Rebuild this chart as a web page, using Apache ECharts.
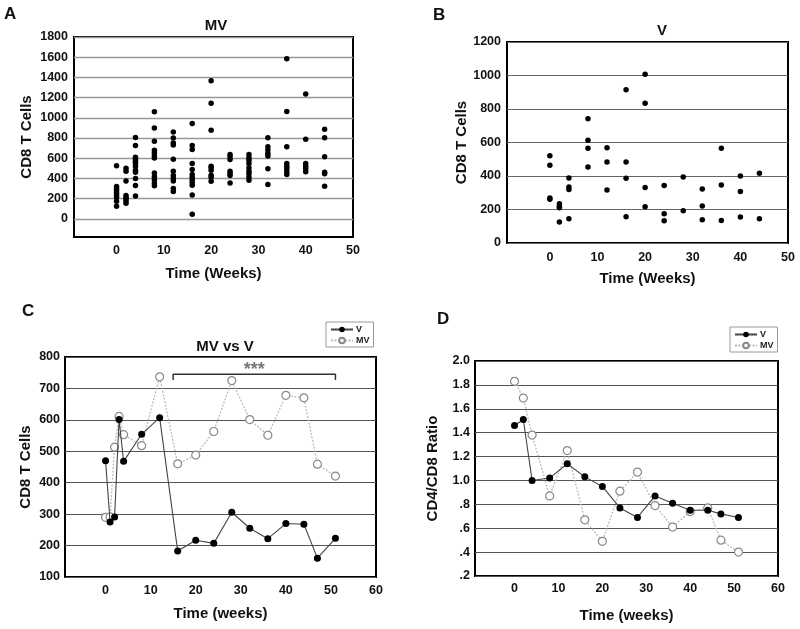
<!DOCTYPE html>
<html><head><meta charset="utf-8">
<script src="https://cdn.jsdelivr.net/npm/echarts@6/dist/echarts.min.js"></script>
<style>html,body{margin:0;padding:0;background:#fff}#c{width:800px;height:629px}</style>
</head><body><div id="c"></div>
<script>
// ---------- DATA ----------
const weeksAB = [0, 2, 4, 8, 12, 16, 20, 24, 28, 32, 36, 40, 44];
const mvCells = [
  [525, 320, 300, 280, 255, 235, 210, 175, 125],
  [500, 470, 375, 230, 210, 195, 180, 155],
  [805, 725, 610, 590, 570, 550, 520, 480, 460, 400, 330, 225],
  [1060, 900, 767, 678, 651, 625, 602, 453, 420, 387, 354, 327],
  [860, 800, 750, 730, 590, 470, 430, 400, 375, 300, 270],
  [943, 727, 687, 548, 488, 438, 412, 388, 362, 332, 236, 46],
  [1368, 1145, 876, 521, 505, 481, 432, 412, 372],
  [637, 614, 588, 471, 448, 428, 355],
  [637, 604, 581, 548, 505, 471, 445, 415, 382],
  [803, 714, 681, 647, 621, 495, 339],
  [1584, 1062, 714, 548, 521, 495, 465, 438],
  [1235, 787, 548, 521, 495, 465],
  [886, 803, 614, 461, 445, 322]
];
const vCells = [
  [521, 464, 269, 261],
  [235, 220, 210, 125],
  [388, 335, 320, 145],
  [742, 613, 565, 454],
  [569, 484, 316],
  [915, 484, 386, 157],
  [1007, 834, 332, 217],
  [344, 175, 133],
  [394, 193],
  [322, 221, 139],
  [565, 346, 135],
  [400, 308, 155],
  [416, 145]
];
const weeksC = [0, 1, 2, 3, 4, 8, 12, 16, 20, 24, 28, 32, 36, 40, 44, 47, 51];
const vMeanC = [470, 275, 291, 601, 468, 554, 607, 183, 217, 207, 306, 255, 222, 270, 268, 160, 223];
const mvMeanC = [290, 291, 513, 611, 553, 518, 737, 460, 488, 563, 725, 601, 551, 678, 670, 459, 421];
const weeksD = [0, 2, 4, 8, 12, 16, 20, 24, 28, 32, 36, 40, 44, 47, 51];
const vRatioD = [1.46, 1.51, 1.00, 1.02, 1.14, 1.03, 0.95, 0.77, 0.69, 0.87, 0.81, 0.75, 0.75, 0.72, 0.69];
const mvRatioD = [1.83, 1.69, 1.38, 0.87, 1.25, 0.67, 0.49, 0.91, 1.07, 0.79, 0.61, 0.74, 0.77, 0.50, 0.40];
const bracketWeeks = [15, 51];
const bracketLevel = 745;
const bracketEnd = 727;
const starsAt = [33, 758];
const xTicksAB = [0, 10, 20, 30, 40, 50];
const xTicksCD = [0, 10, 20, 30, 40, 50, 60];
const yTicksA = [0, 200, 400, 600, 800, 1000, 1200, 1400, 1600, 1800];

// ---------- CHART ----------
const FONT = '"Liberation Sans", Arial, sans-serif';
const chart = echarts.init(document.getElementById('c'), null, {renderer: 'canvas'});

const scatterData = (weeks, cells) => {
  const out = [];
  weeks.forEach((w, i) => cells[i].forEach(v => out.push([w, v])));
  return out;
};
const plain = v => String(Math.round(v));
const lab = {fontFamily: FONT, fontWeight: 'bold', fontSize: 12.5, color: '#111'};
const nameStyle = {fontFamily: FONT, fontWeight: 'bold', fontSize: 15, color: '#111'};

function xAxis(idx, max, ticks, nameGap, margin) {
  return {
    type: 'value', gridIndex: idx, min: -9, max: max,
    name: idx < 2 ? 'Time (Weeks)' : 'Time (weeks)',
    nameLocation: 'middle', nameGap: nameGap, nameTextStyle: nameStyle,
    axisLine: {show: false}, axisTick: {show: false, customValues: ticks},
    splitLine: {show: false},
    axisLabel: Object.assign({customValues: ticks, margin: margin, formatter: plain}, lab)
  };
}
const legendCommon = {orient: 'vertical', data: ['V', 'MV'], padding: [3, 4, 2, 4], itemGap: 2,
  itemWidth: 22, itemHeight: 7, borderColor: '#999', borderWidth: 1, selectedMode: false,
  textStyle: {fontFamily: FONT, fontWeight: 'bold', fontSize: 9, color: '#222', padding: [0, 0, 0, -2]}};

const option = {
  animation: false,
  backgroundColor: '#fff',
  textStyle: {fontFamily: FONT},
  title: [
    {text: 'MV', left: 211, top: 13, textAlign: 'center', textStyle: {fontFamily: FONT, fontSize: 15, fontWeight: 'bold', color: '#111'}},
    {text: 'V', left: 657, top: 18, textAlign: 'center', textStyle: {fontFamily: FONT, fontSize: 15, fontWeight: 'bold', color: '#111'}},
    {text: 'MV vs V', left: 220, top: 334, textAlign: 'center', textStyle: {fontFamily: FONT, fontSize: 15, fontWeight: 'bold', color: '#111'}}
  ],
  graphic: [
    {type: 'text', left: 4, top: 6, style: {text: 'A', font: 'bold 17px ' + FONT, fill: '#111'}},
    {type: 'text', left: 433, top: 7, style: {text: 'B', font: 'bold 17px ' + FONT, fill: '#111'}},
    {type: 'text', left: 22, top: 303, style: {text: 'C', font: 'bold 17px ' + FONT, fill: '#111'}},
    {type: 'text', left: 437, top: 311, style: {text: 'D', font: 'bold 17px ' + FONT, fill: '#111'}}
  ],
  legend: [
    Object.assign({left: 326, top: 322}, legendCommon),
    Object.assign({left: 730, top: 327}, legendCommon)
  ],
  grid: [
    {left: 74, top: 37, width: 279, height: 200, show: true, borderColor: '#000', borderWidth: 2, backgroundColor: 'transparent'},
    {left: 507, top: 42, width: 281, height: 201, show: true, borderColor: '#000', borderWidth: 2, backgroundColor: 'transparent'},
    {left: 65, top: 357, width: 311, height: 220, show: true, borderColor: '#000', borderWidth: 2, backgroundColor: 'transparent'},
    {left: 475, top: 361, width: 303, height: 215, show: true, borderColor: '#000', borderWidth: 2, backgroundColor: 'transparent'}
  ],
  xAxis: [
    xAxis(0, 50, xTicksAB, 29, 7),
    xAxis(1, 50, xTicksAB, 28, 8),
    xAxis(2, 60, xTicksCD, 29, 7),
    xAxis(3, 60, xTicksCD, 32, 6)
  ],
  yAxis: [
    {type: 'value', gridIndex: 0, min: -180, max: 1800,
      name: 'CD8 T Cells', nameLocation: 'middle', nameGap: 40, nameTextStyle: nameStyle,
      axisLine: {show: false}, axisTick: {show: false, customValues: yTicksA},
      axisLabel: Object.assign({customValues: yTicksA, margin: 6, formatter: plain}, lab),
      splitLine: {show: true, lineStyle: {color: '#999', width: 1.3}}},
    {type: 'value', gridIndex: 1, min: 0, max: 1200, interval: 200,
      name: 'CD8 T Cells', nameLocation: 'middle', nameGap: 34, nameTextStyle: nameStyle,
      axisLine: {show: false}, axisTick: {show: false},
      axisLabel: Object.assign({margin: 6, formatter: plain}, lab),
      splitLine: {show: true, lineStyle: {color: '#666', width: 1}}},
    {type: 'value', gridIndex: 2, min: 100, max: 800, interval: 100,
      name: 'CD8 T Cells', nameLocation: 'middle', nameGap: 32, nameTextStyle: nameStyle,
      axisLine: {show: false}, axisTick: {show: false},
      axisLabel: Object.assign({margin: 5, formatter: plain}, lab),
      splitLine: {show: true, lineStyle: {color: '#555', width: 1}}},
    {type: 'value', gridIndex: 3, min: 0.2, max: 2.0, interval: 0.2,
      name: 'CD4/CD8 Ratio', nameLocation: 'middle', nameGap: 35, nameTextStyle: nameStyle,
      axisLine: {show: false}, axisTick: {show: false},
      axisLabel: Object.assign({margin: 5, formatter: v => {
        const s = (Math.round(v * 10) / 10).toFixed(1);
        return v < 1 ? s.replace(/^0/, '') : s;
      }}, lab),
      splitLine: {show: true, lineStyle: {color: '#555', width: 1}}}
  ],
  series: [
    {type: 'scatter', xAxisIndex: 0, yAxisIndex: 0, data: scatterData(weeksAB, mvCells),
      symbolSize: 5.5, itemStyle: {color: '#000', opacity: 1}, silent: true},
    {type: 'scatter', xAxisIndex: 1, yAxisIndex: 1, data: scatterData(weeksAB, vCells),
      symbolSize: 5.5, itemStyle: {color: '#000', opacity: 1}, silent: true},
    {name: 'MV', type: 'line', xAxisIndex: 2, yAxisIndex: 2, data: weeksC.map((w, i) => [w, mvMeanC[i]]),
      symbol: 'circle', symbolSize: 8, lineStyle: {color: '#bbb', width: 1.3, type: [2, 1.5]},
      itemStyle: {color: '#fff', borderColor: '#888', borderWidth: 1.2}, z: 2},
    {name: 'V', type: 'line', xAxisIndex: 2, yAxisIndex: 2, data: weeksC.map((w, i) => [w, vMeanC[i]]),
      symbol: 'circle', symbolSize: 7, lineStyle: {color: '#444', width: 1.1},
      itemStyle: {color: '#000'}, z: 3},
    {type: 'line', xAxisIndex: 2, yAxisIndex: 2, symbol: 'none', silent: true,
      data: [[bracketWeeks[0], bracketEnd], [bracketWeeks[0], bracketLevel], [bracketWeeks[1], bracketLevel], [bracketWeeks[1], bracketEnd]],
      lineStyle: {color: '#333', width: 1.5}},
    {type: 'scatter', xAxisIndex: 2, yAxisIndex: 2, symbol: 'circle', symbolSize: 2, silent: true, data: [starsAt],
      itemStyle: {color: 'rgba(0,0,0,0)'},
      label: {show: true, formatter: '***', position: 'inside', fontFamily: FONT, fontWeight: 'bold', fontSize: 18, color: '#555'}},
    {name: 'MV', type: 'line', xAxisIndex: 3, yAxisIndex: 3, data: weeksD.map((w, i) => [w, mvRatioD[i]]),
      symbol: 'circle', symbolSize: 8, lineStyle: {color: '#bbb', width: 1.3, type: [2, 1.5]},
      itemStyle: {color: '#fff', borderColor: '#888', borderWidth: 1.2}, z: 2},
    {name: 'V', type: 'line', xAxisIndex: 3, yAxisIndex: 3, data: weeksD.map((w, i) => [w, vRatioD[i]]),
      symbol: 'circle', symbolSize: 7, lineStyle: {color: '#444', width: 1.1},
      itemStyle: {color: '#000'}, z: 3}
  ]
};
chart.setOption(option);
</script>
</body></html>
